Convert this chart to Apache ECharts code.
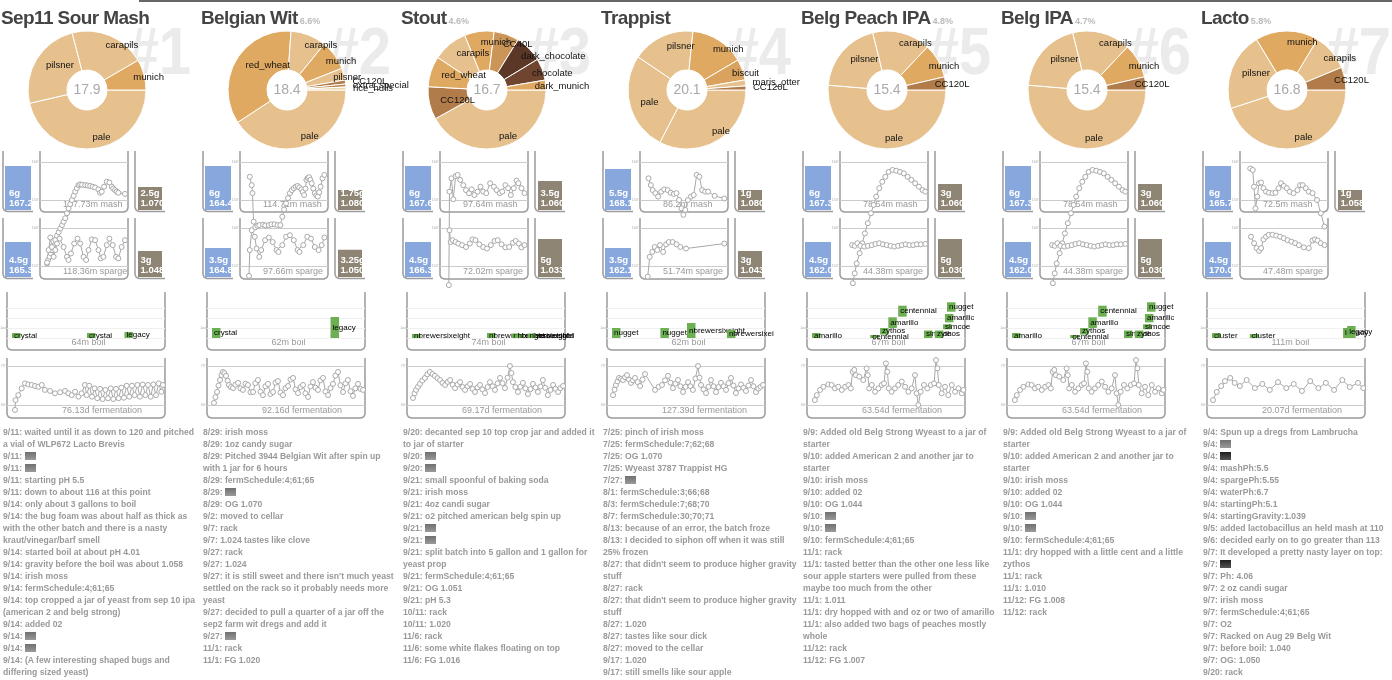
<!DOCTYPE html>
<html><head><meta charset="utf-8">
<script src="https://cdn.jsdelivr.net/npm/echarts@6/dist/echarts.min.js"></script>
<style>
html,body{margin:0;padding:0;background:#fff;}
body{width:1392px;height:680px;position:relative;overflow:hidden;font-family:"Liberation Sans",Arial,Helvetica,sans-serif;}
#topbar{position:absolute;left:139px;top:0;width:1253px;height:2px;background:#666;}
.wm{position:absolute;top:18px;width:120px;text-align:right;font-weight:bold;font-size:66px;line-height:66px;color:#ebebeb;transform:scaleX(0.88);transform-origin:right top;white-space:nowrap;}
#chart{position:absolute;left:0;top:0;width:1392px;height:680px;}
.title{position:absolute;top:8px;font-weight:bold;font-size:19px;line-height:19px;color:#444;letter-spacing:-0.6px;white-space:nowrap;}
.title span{font-size:9px;color:#bbb;letter-spacing:0;margin-left:2px;}
.notes{position:absolute;top:426px;width:194px;font-weight:bold;font-size:8.6px;line-height:12px;color:#999;}
.th{display:inline-block;width:11px;height:8px;vertical-align:-1px;background:linear-gradient(#707070,#9a9a9a);}
.th.d{background:linear-gradient(#1e1e1e,#555);}
</style></head>
<body>
<div id="bg"></div>
<div id="chart"></div>
<div id="fg"><div id="topbar"></div></div>
<script>
// ---------- DATA ----------
const beers = ['Sep11 Sour Mash','Belgian Wit','Stout','Trappist','Belg Peach IPA','Belg IPA','Lacto'];
const abv = ['', '6.6%', '4.6%', '', '4.8%', '4.7%', '5.8%'];

const grainSour = ['pale','pilsner','carapils','munich'];
const lbsSour = [8.3,4.4,3.7,1.5];
const grainWit = ['pale','red_wheat','carapils','munich','pilsner','CC120L','extra_special','rice_hulls'];
const lbsWit = [7.5,6.5,1.8,1.5,0.6,0.2,0.15,0.15];
const grainStout = ['pale','CC120L','red_wheat','carapils','munich','CC40L','dark_chocolate','chocolate','dark_munich'];
const lbsStout = [7.0,1.5,1.4,1.6,1.35,1.15,1.25,1.0,0.45];
const grainTrappist = ['pale','pale','pilsner','munich','biscuit','maris_otter','CC120L'];
const lbsTrappist = [6.55,5.4,3.45,3.0,1.15,0.33,0.22];
const grainIPA = ['pale','pilsner','carapils','munich','CC120L'];
const lbsIPA = [7.9,3.05,2.45,1.45,0.55];
const grainLacto = ['pale','pilsner','munich','carapils','CC120L'];
const lbsLacto = [7.55,3.6,2.9,1.7,1.05];

const strikeGal = [6,6,6,5.5,6,6,6];
const strikeTemp = ['167.2','164.4','167.6','168.1','167.3','167.3','165.7'];
const mashRunGal = [2.5,1.75,3.5,1,3,3,1];
const mashRunSG = ['1.070','1.080','1.060','1.080','1.060','1.060','1.058'];
const spargeGal = [4.5,3.5,4.5,3.5,4.5,4.5,4.5];
const spargeTemp = ['165.3','164.8','166.3','162.1','162.0','162.0','170.0'];
const spargeRunGal = [3,3.25,5,3,5,5,null];
const spargeRunSG = ['1.048','1.050','1.033','1.043','1.030','1.030',null];

const mashMinutes = [137.73,114.71,97.64,86.2,78.54,78.54,72.5];
const spargeMinutes = [118.36,97.66,72.02,51.74,44.38,44.38,47.48];
const boilMinutes = [64,62,74,62,67,67,111];
const fermDays = [76.13,92.16,69.17,127.39,63.54,63.54,20.07];

const mashTicks = [150,160];
const spargeTicks = [150,160];
const fermTicks = [60,75];
const boilOzTicks = [0,3];

const mashSour = [[0,133.3],[2,134.2],[4.7,135.1],[6.5,136],[8.8,136.8],[11,138],[14.7,139.5],[17.5,140.6],[20.5,141.5],[23.4,142.5],[26.5,143.4],[29.3,144.3],[32.2,145.2],[35.2,146.5],[38.1,147.8],[41,148.9],[44,150],[47,151.1],[49.8,152.2],[52.7,153.1],[55.7,153.9],[58.6,154.1],[62,154],[67.4,153.9],[71.8,153.8],[76.2,153.7],[80.6,153.5],[85,153.3],[90.8,152.8],[93.8,151.9],[96.7,152.2],[100.8,153.5],[105.5,154.8],[110.2,154.6],[114.3,153.5],[117,153],[120.1,152.6],[123,152.2],[126,151.9],[137.7,151.6]];
const spargeSour = [[0,150.9],[2.5,154.2],[5,157.5],[7.6,155],[10.1,152.4],[12.6,154.2],[15.1,155.9],[19.1,157.2],[25.2,155],[30.2,152.4],[32.7,151.6],[36.3,153.3],[41.3,155.9],[46.3,157.2],[50.4,155.9],[55.4,152.4],[59.4,151.6],[63,154.2],[68,157],[73,156.8],[78.1,154.2],[81.6,152],[85.6,152.4],[90.7,155.5],[94.7,157.2],[99.7,155.5],[104.8,152.4],[108.3,152],[113.3,155],[118.4,156.8]];
const mashWit = [[4.1,156.1],[6.9,153.9],[8,151.8],[9.7,144.3],[12,142.8],[15.3,143.2],[18.1,143.4],[23.7,143.5],[27,143.3],[32.2,143.4],[36,143.6],[40.6,143.6],[45,143.4],[49.1,143.4],[51.9,145.6],[54.5,147.5],[57.5,149.1],[60.3,150.5],[63.1,151.8],[66,152.6],[68.8,153.1],[71.6,153.5],[74.4,153.7],[77,153.3],[80,152.8],[82,152.1],[84,151.3],[86,153],[87.4,155.3],[89.3,155.8],[91.3,156],[93.2,155.3],[95.2,154.4],[97.5,153],[99.7,151.8],[102,151.2],[104.2,150.9],[106.2,152],[108.2,153.5],[111,155.7],[113.8,156.6]];
const spargeWit = [[2.5,147.4],[3.5,154.2],[5.9,159.4],[9.7,157.7],[12,154.6],[15.4,152.4],[17.8,154.2],[22.6,156.8],[27.4,157.5],[32.2,156.3],[37,154.2],[39.4,153.7],[44.2,155.5],[49,157.7],[53.7,158.1],[58.6,156.8],[63.3,154.2],[65.7,153.7],[70.5,155.5],[75.4,157.7],[80.1,157.2],[84.9,155],[89.7,154.2],[93.5,155.5],[96.9,157.5]];
const mashStout = [[2.3,127.6],[3.1,152.2],[5.5,155.7],[7.9,150.2],[10.8,156.3],[13.3,156.6],[16.5,155.3],[20.4,153.9],[23.8,152.6],[27.5,151.8],[30.9,152.8],[34.3,151.3],[38.2,152.2],[41.9,153.5],[45.3,152.2],[49.2,151.8],[54,154.4],[58.7,153.5],[62.1,152.6],[66,151.8],[69.2,152.2],[73.1,153.9],[76.5,153.1],[79.9,151.3],[83.6,153.1],[87,155.1],[89.4,154.4],[93.3,153.1],[97,151.8]];
const spargeStout = [[2.3,159.4],[3.4,156.3],[5.2,156.8],[7.9,156.3],[10.4,155.9],[13.9,155.5],[17.5,155],[21.1,155.9],[23.5,157],[26.3,156.8],[29.9,155.7],[33.4,155],[36.9,154.6],[40.5,155.5],[44,156.6],[46.8,156.8],[50.4,155.7],[53.9,154.9],[57.4,155],[60.9,156.1],[63.4,156.6],[66.3,155.9],[68.8,154.9],[71.6,155.5]];
const mashTrappist = [[1.7,155.7],[4.2,153.9],[6.3,152.6],[9.3,151.8],[12.3,150.9],[15.7,152.2],[19,152.8],[22.9,152.6],[26.2,151.9],[29.6,151.6],[32.6,151.8],[35.5,150],[38.1,147.8],[40.2,146.1],[42.3,147.4],[45.2,150],[48.6,150.9],[51.6,151.3],[54.9,156.6],[57.9,156.1],[60.9,152.6],[64.3,152.2],[67.6,152.2],[74.8,151.1],[85.4,150.4]];
const spargeTrappist = [[0.5,147.2],[1.8,152.4],[3.5,153.7],[5.1,155],[6.8,154.2],[8.6,155.5],[10.7,153.7],[12.7,155.7],[14.5,156.3],[17,156.3],[19.6,155.7],[22.1,155],[25.9,154.6],[51.3,155.9]];
const mashIPA = [[5.9,128.1],[7.8,130.7],[9.7,133.3],[12.7,136],[15.4,138.6],[18,141.2],[21,143.9],[24.1,146.5],[26.8,148.7],[29.4,150.9],[32.5,153.1],[35.5,154.8],[38.6,156.1],[42,157.4],[45.8,157.9],[49.6,157.7],[53.4,157.4],[57.2,157],[61,156.1],[64.8,155.3],[68.6,154.4],[72.4,153.5],[76.1,152.6],[78.8,152.2]];
const spargeIPA = [[2.9,155.5],[4.4,155.3],[5.9,156],[7.6,155.3],[9.8,155.1],[11.9,155.3],[14.1,155.5],[16.2,155.8],[18.3,156],[20.5,155.7],[22.6,155.5],[24.8,155.3],[26.9,155.1],[29.1,155.3],[31.2,155.5],[33.4,155.7],[35.5,155.5],[37.7,155.5],[39.8,155.7],[42,155.7],[44.6,155.8]];
const mashLacto = [[3,158.3],[5.4,157.9],[6.5,153.5],[7.9,147.8],[9.6,150.9],[11.1,154.4],[13.1,154.6],[15.3,153.1],[17.7,152.2],[20.5,151.9],[23.7,151.8],[26.5,151.9],[29.3,153.1],[31.7,154.4],[34.2,153.7],[37,153.1],[39.8,152.2],[43.3,151.8],[46.9,152.6],[49.3,153.9],[51.7,153.9],[54.6,153.1],[57.4,152.2],[60.9,151.8],[65.1,150],[68.6,146.5],[72,143]];
const spargeLacto = [[2.4,157.7],[4.3,156],[5.8,154.7],[7.4,154],[8.6,154.7],[10,157],[11.6,157.7],[13.2,158.2],[15.5,158.2],[17.8,158],[20.1,157.7],[22.4,157.3],[24.7,156.8],[27,156.4],[29.3,156],[31.6,155.5],[34.6,154.9],[37.6,154.7],[39.9,156.7],[41.4,157],[43,156.7],[44.9,156],[47.2,155.5]];

const fermSour = [[1.0,58.1],[1.3,61.9],[2.7,63.8],[4.4,66.4],[6.1,68.3],[7.8,67.9],[9.5,67.7],[11.2,67.3],[12.9,67],[14.6,67.7],[16.2,65.8],[18.8,65.4],[21.3,64.5],[23.9,64.9],[26.4,65.4],[28.1,64.5],[29.8,63.8],[31.5,65.1],[33.2,63.2],[34.8,64.5],[36.5,67.7],[37.4,63.8],[38.7,67.4],[40.1,63.2],[41.4,66.4],[42.8,62.6],[44.2,66.2],[45.5,62.3],[46.9,65.8],[48.2,62.6],[49.6,66.4],[50.9,62.3],[52.3,66.2],[53.6,62.6],[55,66.7],[56.3,62.8],[57.7,67.4],[59,63.2],[60.4,67.4],[61.7,63.8],[63.1,67.7],[64.4,63.2],[65.8,67.9],[67.2,63.8],[68.5,67.7],[69.9,63.2],[71.2,67.9],[72.6,63.8],[73.9,68.3],[75.3,65.1],[76.1,67.7]];
const fermWit = [[0.6,60.8],[1.5,63],[2.5,65],[3.4,67.5],[4.3,69.6],[5.2,71.5],[6.1,72.7],[7,72.2],[8,71.2],[9,69.3],[9.8,67.7],[11,66.9],[12.3,66.5],[13.8,67.8],[15.4,68.5],[16.9,66.4],[18.4,65.8],[20,68.2],[21.5,67.7],[23,64.9],[24.6,65],[26,68.4],[27.6,69.6],[29.2,65.1],[30.7,63.8],[32.2,67.2],[33.8,68.1],[35.3,64.2],[36.9,65],[38.4,68.6],[39.9,69.2],[41.5,64.8],[43,63.8],[44.5,66.5],[46.1,67.3],[47.6,69.8],[49.2,70.4],[50.7,66],[52.2,64.6],[53.8,66.9],[55.3,67.7],[56.8,64.5],[58.4,63.1],[59.9,67.1],[61.4,68.8],[63,66.7],[64.5,65.8],[66,69.5],[67.6,70.4],[69.1,65.2],[70.7,63.8],[72.2,66.5],[73.7,68.1],[75.2,71.3],[76.8,72.7],[78.3,67.6],[79.9,65],[81.4,68.3],[82.9,69.6],[84.5,65.3],[86,63.5],[87.5,66.4],[89.1,68.1],[90.6,66.2],[92.2,65.8]];
const fermStout = [[0,62.7],[0.7,64.5],[1.4,65.8],[2.3,67],[3.2,68.1],[4.3,69.4],[5.5,70.4],[6.6,71.8],[7.8,72.7],[9,71.9],[10.1,71.2],[11.3,70.3],[12.5,69.6],[13.6,68.5],[14.8,67.7],[16,68.9],[17.1,69.6],[18.3,67.8],[19.4,66.5],[20.6,67.9],[21.7,68.8],[22.9,66.9],[24,65.8],[25.2,67.2],[26.3,68.1],[27.5,66.2],[28.6,65],[29.8,66.8],[30.9,67.7],[32,66],[33.2,64.6],[34.4,66.9],[35.5,68.8],[36.7,67.2],[37.8,65.8],[39,68.3],[40.1,70.4],[41.3,68.4],[42.4,66.5],[43.6,70.5],[44.7,75],[45.4,72.3],[46.1,68.8],[47.2,66.9],[48.4,65],[49.5,67],[50.7,68.5],[51.8,66.4],[53,64.2],[54.2,66.1],[55.3,68.1],[56.5,66.7],[57.6,65],[58.8,67.1],[59.9,69.6],[61,66.6],[62.2,63.8],[63.4,65.8],[64.6,67.7],[65.7,66.2],[66.9,65],[68,66.5],[69.2,67.3]];
const fermTrappist = [[0,63.8],[1.3,65.9],[2.5,67.7],[3.8,69.1],[5.1,70.4],[6.8,70],[8.5,69.6],[10.2,70.7],[11.9,71.5],[13.6,69.8],[15.3,68.5],[17,69.5],[18.7,70.4],[20.9,68.8],[23,67.3],[25.1,69.8],[27.2,71.9],[35.7,65.8],[38.7,67],[41.6,67.7],[44.2,69.5],[46.7,71.2],[48.8,68.6],[50.9,66.5],[53,68.2],[55.2,69.6],[57.3,67.2],[59.5,65],[61.6,67],[63.7,68.8],[65.8,67.2],[67.9,65.8],[70,70.2],[72.2,75],[73.5,70.5],[74.7,67.7],[76.9,66],[79,64.6],[81.1,67],[83.2,69.6],[85.4,67.2],[87.5,65],[89.6,66.9],[91.7,68.5],[93.9,67.2],[96,65.8],[98.1,68.4],[100.2,70.4],[102.3,67.5],[104.4,64.6],[106.6,66.4],[108.7,67.9],[110.8,66.6],[112.9,65.4],[115,67.5],[117.2,69.6],[119.3,67.2],[121.4,65],[123.4,66.3],[125.4,67],[127.4,67.7]];
const fermIPA = [[0.8,61.9],[1.6,63.8],[3,65.8],[4.4,67],[6.5,67.9],[7.9,67.7],[9.3,66.4],[10.7,67],[12.2,65.8],[13.6,67],[15,67.7],[16,66.4],[16.8,72.8],[17.5,73.5],[18.2,71.5],[19.6,70.9],[21.3,69.6],[22.7,74.1],[23.2,71.5],[23.8,66.4],[24.9,67.7],[26.3,65.1],[27.7,66.4],[29.1,67.7],[30.1,68.3],[30.9,76],[31.5,72.8],[32.1,66.4],[33.3,65.1],[34.7,66.4],[36.1,67.7],[37.6,69],[39,67],[40.4,65.1],[41.8,66.4],[43.2,71.5],[43.9,64.5],[44.6,60],[45.6,65.1],[47,67.7],[48.4,66.4],[49.9,67.7],[51.3,68.3],[52.1,77.3],[52.7,74.1],[53.3,67.7],[54.5,64.5],[55.9,67],[57.3,63.8],[58.8,67.7],[60.2,65.1],[61.6,66.4],[63,64.5],[63.7,65.8]];
const fermLacto = [[0,61.9],[0.5,65],[1.1,67.3],[1.6,69.2],[2.3,70.4],[2.9,68.5],[3.6,67.3],[4.5,69.6],[5.6,66.5],[6.6,68.1],[7.6,65.8],[8.7,68.8],[9.8,66.5],[10.8,68.1],[11.9,65.4],[13,69.2],[14.1,66.5],[15.1,68.5],[16.2,65.8],[17.3,69.6],[18.3,66.9],[19.4,68.5],[20.1,66.5]];

// hop additions: [minute, ozFrom, ozTo]
const hopsSour = ['crystal','crystal','legacy'];
const boilSour = [[0,0,0.5],[32,0,0.5],[48,0,0.6]];
const hopsWit = ['crystal','legacy'];
const boilWit = [[0,0,1.0],[49,0,2.1]];
const hopsStout = ['nbrewersixeight','nbrewersixeight','nbrewersixeight','nbrewersixeight','nbrewersixeight'];
const boilStout = [[0,0,0.4],[37,0,0.5],[49,0,0.45],[51,0,0.35],[57,0,0.45]];
const hopsTrappist = ['nugget','nugget','nbrewersixeight','nbrewersixeight'];
const boilTrappist = [[0,0,1.0],[20,0,1.0],[31,0,1.5],[47.5,0,0.8]];
const hopsIPA = ['amarillo','centennial','zythos','amarillo','centennial','simcoe','zythos','simcoe','amarillo','nugget'];
const boilIPA = [[0,0,0.5],[26,0,0.3],[30.4,0.35,1.0],[34.1,1.0,2.07],[38.5,2.13,3.23],[50,0,0.75],[54.9,0,0.75],[58.5,0.87,1.37],[59.4,1.57,2.4],[60.3,2.63,3.57]];
const hopsLacto = ['cluster','cluster','legacy','legacy'];
const boilLacto = [[0,0,0.5],[28,0,0.4],[97,0,1.0],[100,0,1.2]];

const notesSour = ['9/11: waited until it as down to 120 and pitched a vial of WLP672 Lacto Brevis','9/11: §','9/11: §','9/11: starting pH 5.5','9/11: down to about 116 at this point','9/14: only about 3 gallons to boil','9/14: the bug foam was about half as thick as with the other batch and there is a nasty kraut/vinegar/barf smell','9/14: started boil at about pH 4.01','9/14: gravity before the boil was about 1.058','9/14: irish moss','9/14: fermSchedule:4;61;65','9/14: top cropped a jar of yeast from sep 10 ipa (american 2 and belg strong)','9/14: added 02','9/14: §','9/14: §','9/14: (A few interesting shaped bugs and differing sized yeast)'];
const notesWit = ['8/29: irish moss','8/29: 1oz candy sugar','8/29: Pitched 3944 Belgian Wit after spin up with 1 jar for 6 hours','8/29: fermSchedule:4;61;65','8/29: §','8/29: OG 1.070','9/2: moved to cellar','9/7: rack','9/7: 1.024 tastes like clove','9/27: rack','9/27: 1.024',"9/27: it is still sweet and there isn't much yeast settled on the rack so it probably needs more yeast",'9/27: decided to pull a quarter of a jar off the sep2 farm wit dregs and add it','9/27: §','11/1: rack','11/1: FG 1.020'];
const notesStout = ['9/20: decanted sep 10 top crop jar and added it to jar of starter','9/20: §','9/20: §','9/21: small spoonful of baking soda','9/21: irish moss','9/21: 4oz candi sugar','9/21: o2 pitched american belg spin up','9/21: §','9/21: §','9/21: split batch into 5 gallon and 1 gallon for yeast prop','9/21: fermSchedule:4;61;65','9/21: OG 1.051','9/21: pH 5.3','10/11: rack','10/11: 1.020','11/6: rack','11/6: some white flakes floating on top','11/6: FG 1.016'];
const notesTrappist = ['7/25: pinch of irish moss','7/25: fermSchedule:7;62;68','7/25: OG 1.070','7/25: Wyeast 3787 Trappist HG','7/27: §','8/1: fermSchedule:3;66;68','8/3: fermSchedule:7;68;70','8/7: fermSchedule:30;70;71','8/13: because of an error, the batch froze','8/13: I decided to siphon off when it was still 25% frozen',"8/27: that didn't seem to produce higher gravity stuff",'8/27: rack',"8/27: that didn't seem to produce higher gravity stuff",'8/27: 1.020','8/27: tastes like sour dick','8/27: moved to the cellar','9/17: 1.020','9/17: still smells like sour apple'];
const notesPeach = ['9/9: Added old Belg Strong Wyeast to a jar of starter','9/10: added American 2 and another jar to starter','9/10: irish moss','9/10: added 02','9/10: OG 1.044','9/10: §','9/10: §','9/10: fermSchedule:4;61;65','11/1: rack','11/1: tasted better than the other one less like sour apple starters were pulled from these maybe too much from the other','11/1: 1.011','11/1: dry hopped with and oz or two of amarillo','11/1: also added two bags of peaches mostly whole','11/12: rack','11/12: FG 1.007'];
const notesBelgIPA = ['9/9: Added old Belg Strong Wyeast to a jar of starter','9/10: added American 2 and another jar to starter','9/10: irish moss','9/10: added 02','9/10: OG 1.044','9/10: §','9/10: §','9/10: fermSchedule:4;61;65','11/1: dry hopped with a little cent and a little zythos','11/1: rack','11/1: 1.010','11/12: FG 1.008','11/12: rack'];
const notesLacto = ['9/4: Spun up a dregs from Lambrucha','9/4: §','9/4: ¤','9/4: mashPh:5.5','9/4: spargePh:5.55','9/4: waterPh:6.7','9/4: startingPh:5.1','9/4: startingGravity:1.039','9/5: added lactobacillus an held mash at 110','9/6: decided early on to go greater than 113','9/7: It developed a pretty nasty layer on top:','9/7: ¤','9/7: Ph: 4.06','9/7: 2 oz candi sugar','9/7: irish moss','9/7: fermSchedule:4;61;65','9/7: O2','9/7: Racked on Aug 29 Belg Wit','9/7: before boil: 1.040','9/7: OG: 1.050','9/20: rack'];

// ---------- ASSEMBLY ----------
const pieGrains = [grainSour,grainWit,grainStout,grainTrappist,grainIPA,grainIPA,grainLacto];
const pieLbs = [lbsSour,lbsWit,lbsStout,lbsTrappist,lbsIPA,lbsIPA,lbsLacto];
const mashSeries = [mashSour,mashWit,mashStout,mashTrappist,mashIPA,mashIPA,mashLacto];
const spargeSeries = [spargeSour,spargeWit,spargeStout,spargeTrappist,spargeIPA,spargeIPA,spargeLacto];
const fermSeries = [fermSour,fermWit,fermStout,fermTrappist,fermIPA,fermIPA,fermLacto];
const boilSeries = [boilSour,boilWit,boilStout,boilTrappist,boilIPA,boilIPA,boilLacto];
const hopNames = [hopsSour,hopsWit,hopsStout,hopsTrappist,hopsIPA,hopsIPA,hopsLacto];
const notes = [notesSour,notesWit,notesStout,notesTrappist,notesPeach,notesBelgIPA,notesLacto];

const FF = '"Liberation Sans", Arial, Helvetica, sans-serif';
const W = 200;
const grainColor = {pale:'#e6c18e', pilsner:'#e6c18e', carapils:'#e6c18e', maris_otter:'#e6c18e', rice_hulls:'#edd5aa',
  munich:'#e0a961', red_wheat:'#e0a961', dark_munich:'#e0a961', biscuit:'#d9a25e', CC40L:'#cc9558',
  CC120L:'#b17c4a', extra_special:'#b98552', chocolate:'#6f4530', dark_chocolate:'#5a3726'};

const grids = [], xAxes = [], yAxes = [], series = [], gfx = [];
function grid(g, xa, ya) {
  const i = grids.length;
  grids.push(Object.assign({containLabel:false, outerBoundsMode:'none'}, g));
  xAxes.push(Object.assign({gridIndex:i}, xa));
  yAxes.push(Object.assign({gridIndex:i}, ya));
  return i;
}
function yAxisCfg(ticks, color, fmt) {
  return {type:'value', min:ticks[0], max:ticks[1], interval:ticks[1]-ticks[0],
    axisLine:{show:false}, axisTick:{show:false},
    splitLine:{show:true, lineStyle:{color:color, width:1}},
    axisLabel:{show:true, fontSize:3.5, color:'#aaa', margin:1, fontFamily:FF, formatter:fmt}};
}
function txt(x, y, text, st) {
  return {type:'text', x:x, y:y, z:0, silent:true,
    style:Object.assign({text:text, fill:'#999', fontSize:9, fontFamily:FF,
      align:'left', textAlign:'left', verticalAlign:'middle', textVerticalAlign:'middle'}, st || {})};
}
function cup(x0, x1, top, bot) {
  return {type:'polyline', silent:true, z:0, shape:{points:[[x0,top],[x0,bot-4],[x0+1.2,bot-1.2],[x0+4,bot],[x1,bot]]},
    style:{stroke:'#9b9b9b', lineWidth:1.5, fill:'none'}};
}
function box(l, r, top, bot) {
  return {type:'polyline', silent:true, z:0, shape:{points:[[l,top],[l,bot-4],[l+1.2,bot-1.2],[l+4,bot],[r-4,bot],[r-1.2,bot-1.2],[r,bot-4],[r,top]]},
    style:{stroke:'#9b9b9b', lineWidth:1.5, fill:'none'}};
}
function lineSeries(i, data) {
  return {type:'line', xAxisIndex:i, yAxisIndex:i, data:data, clip:false, silent:true, animation:false, z:3,
    symbol:'circle', symbolSize:5, showSymbol:true, showAllSymbol:true,
    lineStyle:{color:'#a8a8a8', width:1}, itemStyle:{color:'#fff', borderColor:'#a8a8a8', borderWidth:1}};
}
function addBar(x, w, top, gal, sub, color, tx, minH) {
  const i = grid({left:x, top:top, width:w, height:60},
    {type:'category', data:['v'], show:false},
    {type:'value', min:-4/3, max:26/3, show:false});
  series.push({type:'custom', xAxisIndex:i, yAxisIndex:i, silent:true, animation:false, z:3, data:[[0, gal]],
    renderItem: function(params, api) {
      const p = api.coord([0, api.value(1)]);
      const b = api.coord([0, -4/3]);
      const bw = api.size([1, 0])[0];
      const left = p[0] - bw / 2;
      let h = b[1] - p[1]; if (h < minH) h = minH;
      const y = b[1] - h;
      const ts = {fill:'#fff', fontSize:9.5, fontWeight:'bold', fontFamily:FF, verticalAlign:'middle', textVerticalAlign:'middle'};
      return {type:'group', clipPath:{type:'rect', shape:{x:left, y:y, width:bw, height:h}}, children:[
        {type:'rect', shape:{x:left, y:y, width:bw, height:h}, style:{fill:color}},
        {type:'text', x:left + tx, y:b[1] - 16.5, style:Object.assign({text: gal + 'g'}, ts)},
        {type:'text', x:left + tx, y:b[1] - 6.5, style:Object.assign({text: sub}, ts)}
      ]};
    }});
}

let bgHtml = '', fgHtml = '';
for (let c = 0; c < 7; c++) {
  const X = c * W;
  bgHtml += '<div class="wm" style="left:' + (X + 71) + 'px">#' + (c + 1) + '</div>';
  fgHtml += '<div class="title" style="left:' + (X + 1) + 'px">' + beers[c] + (abv[c] ? '<span>' + abv[c] + '</span>' : '') + '</div>';
  fgHtml += '<div class="notes" style="left:' + (X + 3) + 'px">' + notes[c].map(function(l){
    return '<div>' + l.replace('§', '<span class="th"></span>').replace('¤', '<span class="th d"></span>') + '</div>';
  }).join('') + '</div>';

  // pie
  const names = pieGrains[c], vals = pieLbs[c];
  const sum = vals.reduce(function(a, b){ return a + b; }, 0);
  const cx = X + 87, cy = 90;
  series.push({type:'pie', center:[cx, cy], radius:[20, 59], startAngle:0, clockwise:true, silent:true,
    animation:false, avoidLabelOverlap:false, z:2,
    itemStyle:{borderColor:'#fff', borderWidth:1},
    label:{show:true, position:'inside', color:'#111', fontSize:9.5, fontFamily:FF, formatter:'{b}'},
    labelLine:{show:false},
    labelLayout: function(p) {
      const r = p.labelRect;
      const lx = r.x + r.width / 2, ly = r.y + r.height / 2;
      const dx = lx - cx, dy = ly - cy, d = Math.hypot(dx, dy) || 1;
      const ang = vals[p.dataIndex] / sum * 360;
      const R = ang < 8 ? 66 : 48;
      return {x: cx + dx / d * R, y: cy + dy / d * R, align:'left', verticalAlign:'middle', hideOverlap:false};
    },
    data: names.map(function(n, k){ return {name:n, value:vals[k], itemStyle:{color:grainColor[n]}}; })
  });
  gfx.push(txt(cx, cy, sum.toFixed(1), {fontSize:14, fill:'#aaa', align:'center', textAlign:'center'}));

  // mash row
  gfx.push(cup(X + 3, X + 33, 151, 211.5), box(X + 40, X + 128, 151, 212), cup(X + 135, X + 165, 151, 211.5));
  addBar(X + 5, 26, 150, strikeGal[c], strikeTemp[c], '#87a7dd', 4, 0);
  addBar(X + 138, 24, 150, mashRunGal[c], mashRunSG[c], '#8f8575', 2.5, 20);
  let D = mashMinutes[c];
  let gi = grid({left:X + 40, top:162, width:88, height:38},
    {type:'value', min:-D * 7 / 78, max:D * 81 / 78, show:false}, yAxisCfg(mashTicks, '#ccc', '{value}°'));
  series.push(lineSeries(gi, mashSeries[c]));
  gfx.push(txt(X + 63, 205, mashMinutes[c] + 'm mash'));

  // sparge row
  gfx.push(cup(X + 3, X + 33, 218, 278.5), box(X + 40, X + 128, 218, 279));
  addBar(X + 5, 26, 217, spargeGal[c], spargeTemp[c], '#87a7dd', 4, 0);
  if (spargeRunGal[c] != null) {
    gfx.push(cup(X + 135, X + 165, 218, 278.5));
    addBar(X + 138, 24, 217, spargeRunGal[c], spargeRunSG[c], '#8f8575', 2.5, 20);
  }
  D = spargeMinutes[c];
  gi = grid({left:X + 40, top:228, width:88, height:38},
    {type:'value', min:-D * 7 / 78, max:D * 81 / 78, show:false}, yAxisCfg(spargeTicks, '#ccc', '{value}°'));
  series.push(lineSeries(gi, spargeSeries[c]));
  gfx.push(txt(X + 63, 272, spargeMinutes[c] + 'm sparge'));

  // boil
  gfx.push(box(X + 7, X + 165, 292, 350));
  D = boilMinutes[c];
  gi = grid({left:X + 7, top:308, width:158, height:30},
    {type:'value', min:-D * 5 / 150, max:D * 153 / 150, show:false},
    yAxisCfg(boilOzTicks, '#f0f0f0', function(v){ return ''; }));
  yAxes[gi].interval = 1;
  yAxes[gi].axisLabel.formatter = function(v){ return v === 1 ? '1oz' : ''; };
  const hn = hopNames[c];
  series.push({type:'custom', xAxisIndex:gi, yAxisIndex:gi, silent:true, animation:false, z:3,
    data: boilSeries[c].map(function(a, k){ return [a[0], a[1], a[2], k]; }),
    renderItem: function(params, api) {
      const t = api.value(0), k = api.value(3);
      const p0 = api.coord([t, api.value(1)]), p1 = api.coord([t, api.value(2)]);
      const cs = params.coordSys;
      return {type:'group', clipPath:{type:'rect', shape:{x:cs.x - 10, y:cs.y - 40, width:cs.width + 19, height:cs.height + 70}}, children:[
        {type:'rect', shape:{x:p0[0], y:p1[1], width:8.5, height:p0[1] - p1[1]}, style:{fill:'#6db054'}},
        {type:'text', x:p0[0] + 2, y:(p0[1] + p1[1]) / 2, style:{text:hn[k], fill:'#000', fontSize:8, fontFamily:FF, verticalAlign:'middle', textVerticalAlign:'middle'}}
      ]};
    }});
  gfx.push(txt(X + 71.5, 343, boilMinutes[c] + 'm boil'));

  // fermentation
  gfx.push(box(X + 7, X + 165, 358, 418));
  D = fermDays[c];
  gi = grid({left:X + 7, top:366, width:158, height:39},
    {type:'value', min:-D * 6 / 150, max:D * 152 / 150, show:false}, yAxisCfg(fermTicks, '#ccc', '{value}°'));
  series.push(lineSeries(gi, fermSeries[c]));
  gfx.push(txt(X + 62, 411, fermDays[c] + 'd fermentation'));
}
document.getElementById('bg').innerHTML = bgHtml;
document.getElementById('fg').insertAdjacentHTML('beforeend', fgHtml);

const chart = echarts.init(document.getElementById('chart'), null, {renderer:'canvas'});
chart.setOption({
  animation:false,
  backgroundColor:'transparent',
  textStyle:{fontFamily:FF},
  grid:grids, xAxis:xAxes, yAxis:yAxes,
  series:series,
  graphic:{elements:gfx}
});
</script>
</body></html>
